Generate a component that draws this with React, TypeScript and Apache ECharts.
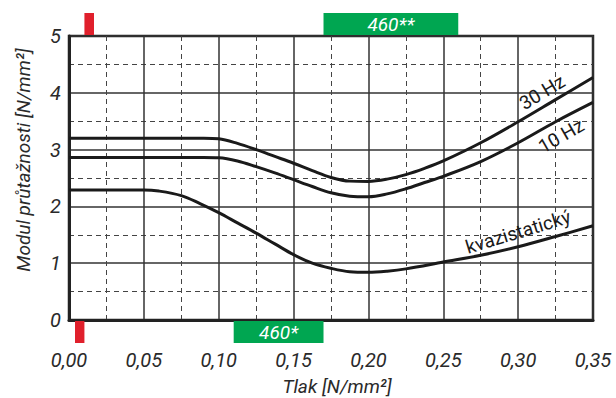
import React, { useEffect, useRef } from 'react';
import * as echarts from 'echarts';

const seriesNames = ['30 Hz', '10 Hz', 'kvazistatický'];

const curve30Hz: [number, number][] = [
  [0, 3.2], [0.05, 3.2], [0.09, 3.2], [0.1, 3.19], [0.1125, 3.11], [0.125, 3.0],
  [0.1375, 2.88], [0.15, 2.76], [0.1625, 2.63], [0.175, 2.51], [0.1875, 2.445],
  [0.2, 2.44], [0.2125, 2.48], [0.225, 2.56], [0.2375, 2.67], [0.25, 2.8],
  [0.275, 3.12], [0.3, 3.49], [0.325, 3.88], [0.35, 4.27],
];

const curve10Hz: [number, number][] = [
  [0, 2.86], [0.05, 2.86], [0.09, 2.86], [0.1, 2.855], [0.1125, 2.8], [0.125, 2.7],
  [0.1375, 2.59], [0.15, 2.47], [0.1625, 2.35], [0.175, 2.24], [0.1875, 2.18],
  [0.2, 2.17], [0.2125, 2.22], [0.225, 2.31], [0.2375, 2.42], [0.25, 2.53],
  [0.275, 2.79], [0.3, 3.12], [0.325, 3.49], [0.35, 3.83],
];

const curveKvazi: [number, number][] = [
  [0, 2.29], [0.05, 2.29], [0.06, 2.27], [0.075, 2.19], [0.0875, 2.05], [0.1, 1.89],
  [0.1125, 1.71], [0.125, 1.53], [0.1375, 1.34], [0.15, 1.15], [0.1625, 1.0],
  [0.175, 0.91], [0.1875, 0.85], [0.2, 0.84], [0.2125, 0.86], [0.225, 0.9],
  [0.25, 1.02], [0.275, 1.14], [0.3, 1.29], [0.325, 1.47], [0.35, 1.66],
];

const redTopRange = [0.0103, 0.0167];
const redBottomRange = [0.004, 0.0103];
const greenTopRange = [0.17, 0.26];
const greenBottomRange = [0.11, 0.17];
const greenTopLabel = '460**';
const greenBottomLabel = '460*';

const FONT = 'Roboto, "Liberation Sans", sans-serif';
const TEXT = '#2a2a2a';
const RED = '#e0202c';
const GREEN = '#00a651';

export default function App() {
  const ref = useRef<HTMLDivElement>(null);

  useEffect(() => {
    if (!ref.current) return;
    const chart = echarts.init(ref.current, undefined, { renderer: 'svg' });
    const curves = [curve30Hz, curve10Hz, curveKvazi];
    chart.setOption({
      animation: false,
      grid: {
        left: 69, right: 23, top: 36, bottom: 78,
        show: true, borderColor: '#222', borderWidth: 2.5, backgroundColor: 'transparent',
      },
      xAxis: {
        type: 'value', min: 0, max: 0.35, interval: 0.05,
        axisLine: { show: true, onZero: false, lineStyle: { color: '#222', width: 3 } },
        axisTick: { show: false },
        minorTick: { show: false, splitNumber: 2 },
        axisLabel: {
          margin: 30, color: TEXT, fontSize: 20, fontStyle: 'italic', fontFamily: FONT,
          formatter: (v: number) => v.toFixed(2).replace('.', ','),
        },
        splitLine: { show: true, lineStyle: { color: '#333', width: 1.5 } },
        minorSplitLine: { show: true, lineStyle: { color: '#444', width: 1, type: [5, 4] } },
      },
      yAxis: {
        type: 'value', min: 0, max: 5, interval: 1,
        axisLine: { show: true, onZero: false, lineStyle: { color: '#222', width: 3 } },
        axisTick: { show: false },
        minorTick: { show: false, splitNumber: 2 },
        axisLabel: {
          margin: 8, color: TEXT, fontSize: 20, fontStyle: 'italic', fontFamily: FONT,
        },
        splitLine: { show: true, lineStyle: { color: '#333', width: 1.5 } },
        minorSplitLine: { show: true, lineStyle: { color: '#444', width: 1, type: [5, 4] } },
      },
      series: curves.map((d, i) => ({
        name: seriesNames[i],
        type: 'line',
        data: d,
        smooth: 0.35,
        showSymbol: false,
        lineStyle: { color: '#1a1a1a', width: 3 },
        z: 5,
      })),
    });

    const px = (x: number) => chart.convertToPixel({ xAxisIndex: 0 }, x) as number;
    const py = (y: number) => chart.convertToPixel({ yAxisIndex: 0 }, y) as number;
    const pt = (x: number, y: number) => chart.convertToPixel({ gridIndex: 0 }, [x, y]) as number[];
    const top = py(5);
    const bottom = py(0);

    const box = (range: number[], y0: number, h: number, fill: string) => ({
      type: 'rect',
      shape: { x: px(range[0]), y: y0, width: px(range[1]) - px(range[0]), height: h },
      style: { fill },
      z: 10,
    });
    const boxText = (range: number[], cy: number, text: string) => ({
      type: 'text',
      x: (px(range[0]) + px(range[1])) / 2,
      y: cy,
      style: {
        text, fill: '#fff', fontSize: 19, fontStyle: 'italic', fontFamily: FONT,
        align: 'center', verticalAlign: 'middle',
      },
      z: 11,
    });
    const curveLabel = (text: string, x: number, y: number, deg: number) => {
      const p = pt(x, y);
      return {
        type: 'text', x: p[0], y: p[1], rotation: (deg * Math.PI) / 180,
        style: {
          text, fill: '#1a1a1a', fontSize: 19, fontFamily: FONT,
          align: 'center', verticalAlign: 'middle',
        },
        z: 12,
      };
    };

    chart.setOption({
      graphic: [
        box(redTopRange, top - 23, 22, RED),
        box(greenTopRange, top - 23, 22, GREEN),
        boxText(greenTopRange, top - 12, greenTopLabel),
        box(redBottomRange, bottom + 1, 22, RED),
        box(greenBottomRange, bottom + 1, 22, GREEN),
        boxText(greenBottomRange, bottom + 12, greenBottomLabel),
        curveLabel(seriesNames[0], 0.316, 4.01, 31),
        curveLabel(seriesNames[1], 0.3287, 3.24, 30),
        curveLabel(seriesNames[2], 0.3, 1.55, 17),
        {
          type: 'text', x: 337, y: 386,
          style: {
            text: 'Tlak [N/mm²]', fill: TEXT, fontSize: 19, fontStyle: 'italic', fontFamily: FONT,
            align: 'center', verticalAlign: 'middle',
          },
        },
        {
          type: 'text', x: 23, y: 160, rotation: Math.PI / 2,
          style: {
            text: 'Modul průtažnosti [N/mm²]', fill: TEXT, fontSize: 19, fontStyle: 'italic', fontFamily: FONT,
            align: 'center', verticalAlign: 'middle',
          },
        },
      ],
    });

    return () => chart.dispose();
  }, []);

  return (
    <div
      ref={ref}
      style={{ position: 'fixed', left: 0, top: 0, width: 616, height: 398, background: '#fff' }}
    />
  );
}
